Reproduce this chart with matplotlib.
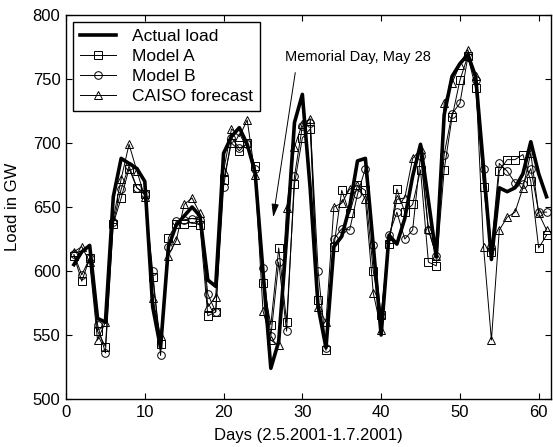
import numpy as np
import matplotlib.pyplot as plt

# daily values, days 1..61
days = np.arange(1, 62)

actual = [605, 615, 620, 563, 560, 658, 688, 684, 680, 670,
          572, 540, 619, 636, 643, 650, 643, 593, 588, 692,
          705, 712, 699, 677, 600, 524, 545, 626, 716, 738,
          664, 572, 540, 619, 627, 650, 686, 688, 620, 550,
          628, 621, 641, 674, 699, 655, 611, 722, 752, 762,
          769, 752, 681, 609, 665, 662, 665, 676, 701, 676,
          658]

model_a = [612, 592, 610, 553, 541, 637, 657, 680, 665, 660,
           595, 543, 626, 637, 637, 638, 636, 565, 568, 671,
           700, 694, 700, 682, 591, 558, 618, 560, 668, 704,
           711, 577, 538, 619, 663, 645, 667, 663, 600, 566,
           621, 664, 646, 652, 679, 607, 604, 679, 720, 749,
           768, 743, 666, 615, 678, 687, 687, 691, 670, 618,
           628]

model_b = [613, 597, 610, 558, 536, 638, 664, 682, 665, 660,
           600, 534, 619, 639, 640, 641, 640, 582, 568, 666,
           704, 696, 699, 680, 602, 549, 607, 553, 674, 713,
           716, 600, 540, 625, 633, 632, 660, 680, 620, 565,
           628, 646, 625, 632, 690, 632, 612, 691, 723, 731,
           767, 749, 680, 619, 684, 678, 669, 668, 680, 646,
           646]

caiso = [615, 619, 607, 546, 560, 641, 672, 699, 678, 658,
         579, 549, 612, 624, 652, 657, 645, 572, 580, 678,
         711, 705, 718, 675, 569, 546, 542, 649, 697, 715,
         719, 572, 560, 650, 653, 664, 667, 656, 583, 554,
         625, 656, 657, 688, 695, 633, 612, 731, 747, 761,
         773, 752, 619, 546, 632, 642, 646, 665, 692, 645,
         632]

plt.rcParams["font.family"] = ["Liberation Sans", "DejaVu Sans"]

fig = plt.figure(figsize=(5.53, 4.47), dpi=100)
ax = fig.add_axes([0.1194, 0.1074, 0.8775, 0.859])

ax.plot(days, actual, color="k", lw=2.6, label="Actual load", zorder=2)
ax.plot(days, model_a, color="k", lw=0.7, marker="s", ms=5.5,
        mfc="none", mew=0.7, label="Model A", zorder=3)
ax.plot(days, model_b, color="k", lw=0.7, marker="o", ms=5.5,
        mfc="none", mew=0.7, label="Model B", zorder=3)
ax.plot(days, caiso, color="k", lw=0.7, marker="^", ms=6,
        mfc="none", mew=0.7, label="CAISO forecast", zorder=3)

ax.text(27.8, 767, "Memorial Day, May 28", fontsize=10.5,
        va="center", ha="left")
ax.annotate("", xy=(26.3, 642), xytext=(29.1, 755),
            arrowprops=dict(arrowstyle="-|>,head_length=0.8,head_width=0.22",
                            color="k", lw=0.7, shrinkA=0, shrinkB=0))

ax.set_xlim(0, 61.6)
ax.set_ylim(500, 800)
ax.set_xticks(range(0, 61, 10))
ax.set_yticks(range(500, 801, 50))
ax.tick_params(direction="in", top=True, right=True, labelsize=12,
               length=4, width=0.8, pad=4)
for s in ax.spines.values():
    s.set_linewidth(1.0)

ax.set_xlabel("Days (2.5.2001-1.7.2001)", fontsize=12, labelpad=6)
ax.set_ylabel("Load in GW", fontsize=12, labelpad=9)

leg = ax.legend(loc="upper left", fontsize=12.5, frameon=True,
                fancybox=False, framealpha=1, edgecolor="k",
                borderpad=0.4, labelspacing=0.28, handlelength=2.1,
                handletextpad=0.9, borderaxespad=0.4)
leg.get_frame().set_linewidth(1.0)

fig.savefig("out.png", dpi=100)
